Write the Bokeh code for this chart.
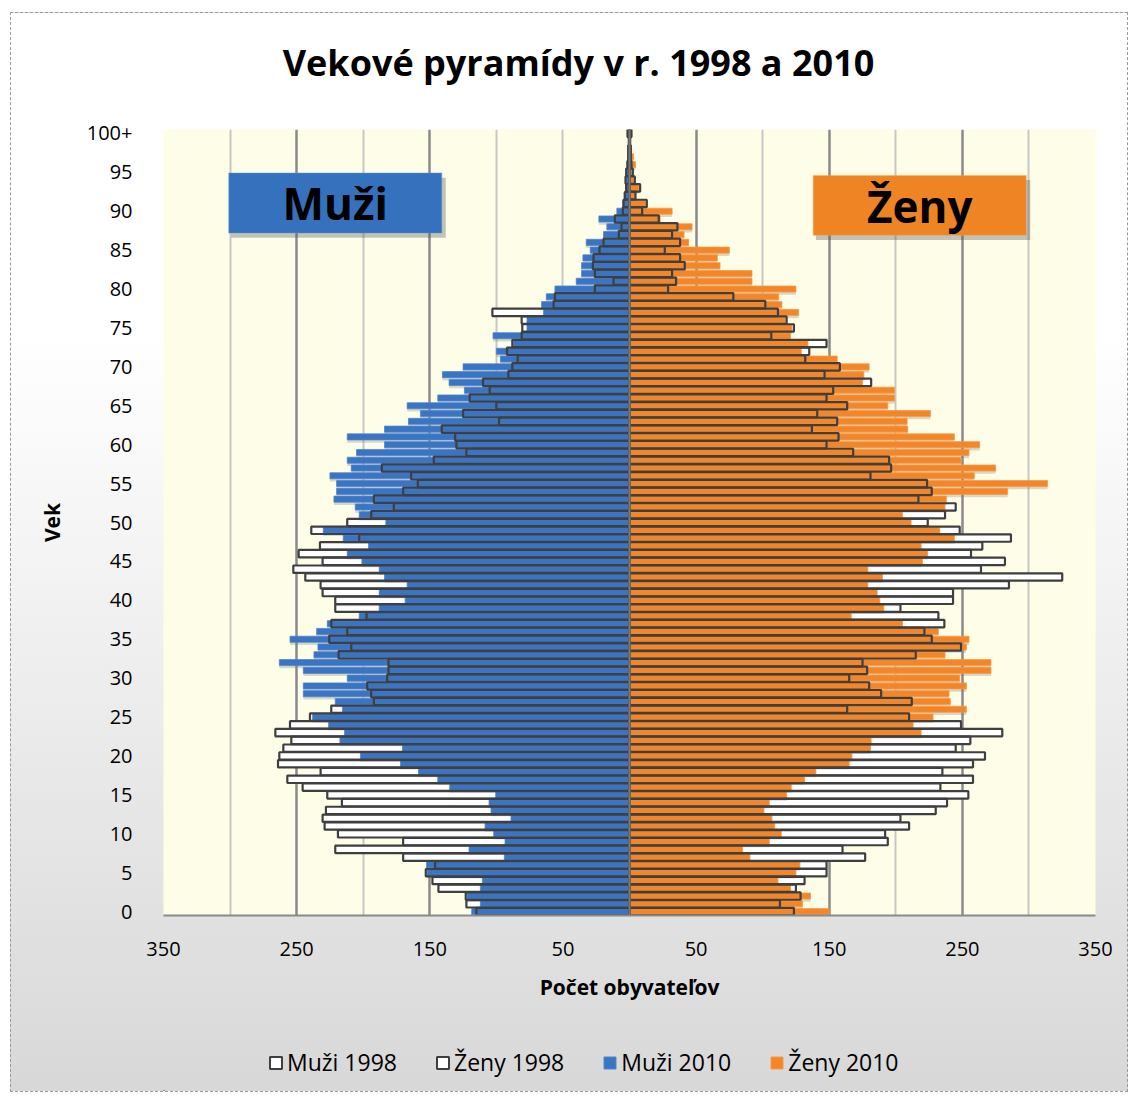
from bokeh.plotting import figure
from bokeh.layouts import column
from bokeh.models import (FixedTicker, Range1d, Label, BoxAnnotation, Legend,
                          LegendItem, Grid, Span, ColumnDataSource)
from bokeh.embed import file_html
from bokeh.resources import INLINE

# ---------------- data ----------------
ages = list(range(0, 101))

muzi_2010 = [118.5, 112, 122, 112, 110.5, 152, 152.5, 94, 120.5, 93.5,
             102, 108.5, 89, 104, 105.5, 100.5, 135, 144, 158.5, 172,
             202, 170.5, 217.5, 214, 226, 238, 215.5, 221, 245, 245,
             212, 245, 263, 237, 234, 255, 235, 227, 203, 188,
             168.5, 188, 167, 184, 188, 201, 212, 196, 215, 230,
             183, 203, 206, 222, 220, 220, 225, 209, 212, 205,
             184, 212, 184, 166, 157, 167, 144, 124, 135.5, 140.5,
             125, 97, 100, 87, 102.5, 77, 77, 64.5, 66, 62.5,
             56, 40, 36, 36, 35, 29.5, 32.5, 19.5, 17, 23,
             9.5, 5, 4, 3, 2.5, 2, 2, 1, 1, 0.5,
             1.5]

muzi_1998 = [115, 122.5, 123, 143.5, 148, 153, 146, 170, 221, 170,
             219, 229, 230.5, 228, 216, 227, 245.5, 257, 232, 264,
             263, 260, 254, 266, 255, 240, 224, 192, 194, 197,
             182, 181, 181, 218.5, 209, 225.5, 212, 224, 197.5, 221,
             221, 230.5, 232, 243.5, 252.5, 230.5, 248.5, 232.5, 203, 239,
             212, 194, 177, 192, 170, 159, 164, 186, 147, 122.5,
             130, 131, 141, 98, 125, 100, 120, 105, 110, 91,
             88, 84, 92, 88, 81, 80.5, 81, 103, 57, 56,
             26, 12, 26, 27.5, 27, 22.5, 19.5, 8, 6, 11,
             5, 4.5, 3.5, 2.5, 3, 2.5, 1.5, 1, 1, 0.5,
             1.5]

zeny_2010 = [150, 130, 136, 121, 111.5, 125, 128, 90.5, 85, 105,
             114, 109, 107, 101, 105, 118, 121.5, 131.5, 140, 165,
             167, 181, 181.5, 219, 213, 228, 253, 241, 240, 253,
             248, 271.5, 271.5, 237, 253, 255, 232, 205, 166.5, 191,
             188, 186, 179, 190, 179, 220, 224, 219, 244, 233,
             211.5, 205, 237, 238, 284, 314, 259, 275, 249, 255,
             263, 244, 209, 208.5, 226, 194, 199, 199, 175, 176,
             180, 156, 129, 134, 121, 122, 117, 127, 114.5, 112,
             125, 92, 92, 68, 66, 75, 44.5, 41, 47, 23,
             32, 12, 4.5, 7, 3, 2, 4.5, 3, 1.5, 0.5,
             1.5]

zeny_1998 = [123.5, 113, 128.5, 125, 131.5, 148, 148, 177, 160, 194,
             192, 210, 203.5, 230, 238.5, 254.5, 233.5, 258, 235, 258,
             267, 245, 256, 280, 249, 210, 163.5, 212, 189, 180,
             165, 178.5, 175, 215, 249, 227, 221.5, 236.5, 232, 203.5,
             243, 243, 285, 325, 264, 282, 256.5, 265, 286.5, 248,
             224, 237, 245, 217, 227, 223.5, 181, 196.5, 195, 168,
             148, 157, 137, 156, 141, 163.5, 148, 153, 181.5, 146.5,
             158, 132, 135, 148, 106.5, 123.5, 118, 111.5, 102, 78,
             29, 35, 32, 41.5, 38, 26.5, 38, 32, 36, 22,
             9.5, 13, 4.5, 8, 4, 2.5, 1.5, 1, 1, 0.5,
             1.5]

series_names = ["Muži 1998", "Ženy 1998", "Muži 2010", "Ženy 2010"]
age_ticks = list(range(0, 101, 5))
age_tick_labels = {100: "100+"}
x_ticks = [-350, -250, -150, -50, 50, 150, 250, 350]

title_text = "Vekové pyramídy v r. 1998 a 2010"
x_label = "Počet obyvateľov"
y_label = "Vek"

FONT = "Open Sans"
BLUE = "#3a74c2"
ORANGE = "#f4862a"
OUTLINE = "#3f3f3f"
W = 1116
BL, BR = 152, 32          # left / right borders -> frame spans page x 163..1095
FW = W - BL - BR          # frame width in pixels


def strip_fig(h):
    f = figure(width=W, height=h, x_range=Range1d(0, FW), y_range=Range1d(0, h),
               x_axis_type=None, y_axis_type=None, output_backend="svg",
               toolbar_location=None, min_border_left=BL, min_border_right=BR,
               min_border_top=0, min_border_bottom=0)
    f.background_fill_color = None
    f.border_fill_color = None
    f.outline_line_color = None
    f.xgrid.visible = False
    f.ygrid.visible = False
    return f


# ---------------- title strip ----------------
p0 = strip_fig(90)
p0.add_layout(Label(x=415, y=41, text=title_text, text_align="center",
                    text_baseline="middle", text_font=FONT, text_font_size="36px",
                    text_font_style="bold", text_color="#000000"))

# ---------------- main pyramid ----------------
src = ColumnDataSource(dict(
    age=ages,
    shadow_age=[a - 0.35 for a in ages],
    m10=[-v for v in muzi_2010],
    m98=[-v for v in muzi_1998],
    w10=zeny_2010,
    w98=zeny_1998,
    zero=[0] * len(ages),
))

p = figure(width=W, height=910,
           x_range=Range1d(-350, 350), y_range=Range1d(-0.5, 100.5),
           output_backend="svg", toolbar_location=None,
           min_border_left=BL, min_border_right=BR,
           min_border_top=26, min_border_bottom=98)
p.background_fill_color = "#fefee8"
p.border_fill_color = None
p.outline_line_color = None

p.ygrid.visible = False
p.xgrid.ticker = FixedTicker(ticks=[-350, -250, -150, 50, 150, 250, 350])
p.xgrid.grid_line_color = "#8a8a8a"
p.xgrid.grid_line_width = 2.5
p.add_layout(Grid(dimension=0, ticker=FixedTicker(ticks=[-300, -200, -100, -50, 100, 200, 300]),
                  grid_line_color="#c6c6c6", grid_line_width=2))

# 1998 white fill (behind)
p.hbar(y="age", left="m98", right="zero", height=0.95, source=src,
       fill_color="white", line_color=None)
p.hbar(y="age", left="zero", right="w98", height=0.95, source=src,
       fill_color="white", line_color=None)
# shadows of 2010 bars
p.hbar(y="shadow_age", left="m10", right="zero", height=0.78, source=src,
       fill_color="#777777", fill_alpha=0.28, line_color=None)
p.hbar(y="shadow_age", left="zero", right="w10", height=0.78, source=src,
       fill_color="#777777", fill_alpha=0.28, line_color=None)
# 2010 coloured bars
p.hbar(y="age", left="m10", right="zero", height=0.78, source=src,
       fill_color=BLUE, line_color="#4f86cf", line_width=0.8)
p.hbar(y="age", left="zero", right="w10", height=0.78, source=src,
       fill_color=ORANGE, line_color="#f79a45", line_width=0.8)
# 1998 outlines (on top)
p.hbar(y="age", left="m98", right="zero", height=0.95, source=src,
       fill_color=None, line_color=OUTLINE, line_width=2.2)
p.hbar(y="age", left="zero", right="w98", height=0.95, source=src,
       fill_color=None, line_color=OUTLINE, line_width=2.2)

p.add_layout(Span(location=0, dimension="height", line_color="#7a7a7a", line_width=2))

p.xaxis.ticker = FixedTicker(ticks=x_ticks)
p.xaxis.major_label_overrides = {t: str(abs(t)) for t in x_ticks}
p.xaxis.axis_line_color = "#8a8a8a"
p.xaxis.axis_line_width = 2
p.xaxis.major_tick_line_color = None
p.xaxis.minor_tick_line_color = None
p.xaxis.major_label_standoff = 20
p.xaxis.axis_label = x_label
p.xaxis.axis_label_standoff = 14

p.yaxis.ticker = FixedTicker(ticks=age_ticks)
p.yaxis.major_label_overrides = age_tick_labels
p.yaxis.axis_line_color = None
p.yaxis.major_tick_line_color = None
p.yaxis.minor_tick_line_color = None
p.yaxis.major_label_standoff = 25
p.yaxis.axis_label = y_label
p.yaxis.axis_label_standoff = 18

for ax in (p.xaxis, p.yaxis):
    ax.major_label_text_font = FONT
    ax.major_label_text_font_size = "20px"
    ax.major_label_text_color = "#000000"
    ax.axis_label_text_font = FONT
    ax.axis_label_text_font_size = "21px"
    ax.axis_label_text_font_style = "bold"
    ax.axis_label_text_color = "#000000"

# Muži / Ženy boxes
p.add_layout(BoxAnnotation(left=-299, right=-138, bottom=86.6, top=94.3,
                           fill_color="#555555", fill_alpha=0.35, line_color=None))
p.add_layout(BoxAnnotation(left=-301, right=-141, bottom=87.2, top=94.9,
                           fill_color="#3571bd", fill_alpha=1, line_color="#5d97dc",
                           line_width=1.5))
p.add_layout(BoxAnnotation(left=140, right=301, bottom=86.3, top=94.0,
                           fill_color="#555555", fill_alpha=0.35, line_color=None))
p.add_layout(BoxAnnotation(left=138, right=298, bottom=86.9, top=94.6,
                           fill_color="#ee8424", fill_alpha=1, line_color="#f7a352",
                           line_width=1.5))
p.add_layout(Label(x=-221, y=91.0, text="Muži", text_align="center", text_baseline="middle",
                   text_font=FONT, text_font_size="44px", text_font_style="bold",
                   text_color="#000000"))
p.add_layout(Label(x=218, y=90.7, text="Ženy", text_align="center", text_baseline="middle",
                   text_font=FONT, text_font_size="44px", text_font_style="bold",
                   text_color="#000000"))

# ---------------- legend strip ----------------
p2 = strip_fig(78)
# legend proxies: a single off-canvas swatch each, only used to draw the legend keys
proxy = ColumnDataSource(dict(y=[-1000], left=[0], right=[1]))
lg_m98 = p2.hbar(y="y", left="left", right="right", height=1, source=proxy,
                 fill_color="white", line_color=OUTLINE, line_width=2)
lg_w98 = p2.hbar(y="y", left="left", right="right", height=1, source=proxy,
                 fill_color="white", line_color=OUTLINE, line_width=2)
lg_m10 = p2.hbar(y="y", left="left", right="right", height=1, source=proxy,
                 fill_color=BLUE, line_color="#4f86cf")
lg_w10 = p2.hbar(y="y", left="left", right="right", height=1, source=proxy,
                 fill_color=ORANGE, line_color="#f79a45")
legend = Legend(items=[
    LegendItem(label=series_names[0], renderers=[lg_m98]),
    LegendItem(label=series_names[1], renderers=[lg_w98]),
    LegendItem(label=series_names[2], renderers=[lg_m10]),
    LegendItem(label=series_names[3], renderers=[lg_w10]),
], orientation="horizontal", location=(105, 13), padding=0, margin=0,
    spacing=38, glyph_width=15, glyph_height=15, label_standoff=4,
    label_text_font=FONT, label_text_font_size="23px", label_text_color="#000000",
    border_line_color=None, background_fill_alpha=0)
p2.add_layout(legend)

layout = column(p0, p, p2, spacing=0)
layout.styles = {"background": "linear-gradient(180deg, #ffffff 0%, #ffffff 30%, #d8d8d8 100%)",
                 "border": "1px dashed #9a9a9a",
                 "margin-left": "10px", "margin-top": "12px"}

open("out.html", "w").write(file_html(layout, INLINE))
